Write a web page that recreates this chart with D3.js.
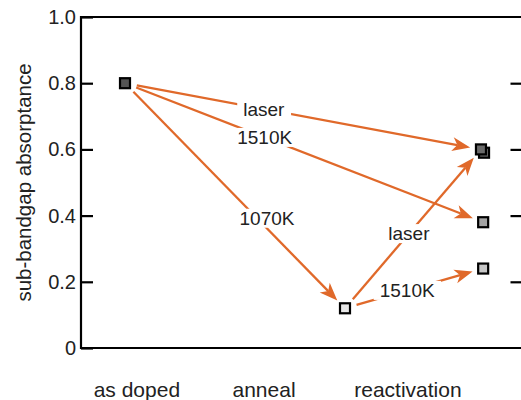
<!DOCTYPE html>
<html><head><meta charset="utf-8">
<script src="https://cdn.jsdelivr.net/npm/d3@7"></script>
<style>body{margin:0;background:#fff}svg{display:block}text{font-family:"Liberation Sans",Arial,sans-serif}</style>
</head><body>
<script>
const categories = ["as doped", "anneal", "reactivation"];
const categoryX = [1.27, 4.16, 7.43];
const yTicks = [0, 0.2, 0.4, 0.6, 0.8, 1.0];
const yTickLabels = ["0", "0.2", "0.4", "0.6", "0.8", "1.0"];
// points (drawing order)
const pointX = [1.0, 6.0, 9.16, 9.09, 9.14, 9.14];
const pointY = [0.80, 0.12, 0.59, 0.60, 0.38, 0.24];
const pointFill = ["#545454", "#e8e8e8", "#6a6a6a", "#6a6a6a", "#a4a4a4", "#c6c6c6"];
// arrows between points
const arrowFrom = [0, 0, 0, 1, 1];
const arrowTo = [3, 4, 1, 3, 5];
const arrowLabel = ["laser", "1510K", "1070K", "laser", "1510K"];
const labelT = [0.39, 0.39, 0.60, 0.47, 0.45];
const labelDx = [0, 0, 10, 0, 0];

const W = 521, H = 400;
const svg = d3.select("body").append("svg").attr("width", W).attr("height", H);
const x = d3.scaleLinear().domain([0, 10]).range([81, 521]);
const y = d3.scaleLinear().domain([0, 1]).range([348, 17]);
const orange = "#e0692a";

// frame
const frame = svg.append("g").attr("stroke", "#000").attr("stroke-width", 2.2).attr("fill", "none");
frame.append("path").attr("d", `M${x(10)+30},${y(1)}H${x(0)}V${y(0)}H${x(10)+30}`);

// left axis ticks & labels
const left = svg.append("g").attr("transform", `translate(${x(0)},0)`)
  .call(d3.axisLeft(y).tickValues(yTicks).tickFormat((d, i) => yTickLabels[i]).tickSize(-12).tickPadding(5));
left.select(".domain").remove();
left.selectAll(".tick line").attr("stroke-width", 2.2).attr("stroke", "#000");
left.selectAll(".tick text").attr("font-size", 20).attr("fill", "#222").attr("font-family", "Liberation Sans, Arial, sans-serif");
// right axis ticks
const right = svg.append("g").attr("transform", `translate(${522.5},0)`)
  .call(d3.axisRight(y).tickValues(yTicks.slice(1, 5)).tickFormat("").tickSize(-12));
right.select(".domain").remove();
right.selectAll(".tick line").attr("stroke-width", 2.2).attr("stroke", "#000");

// y label
svg.append("text").attr("transform", `translate(31,${(y(0)+y(1))/2}) rotate(-90)`)
  .attr("text-anchor", "middle").attr("font-size", 20.5).attr("fill", "#222").text("sub-bandgap absorptance");

// category labels
svg.append("g").selectAll("text").data(categories).join("text")
  .attr("x", (d, i) => x(categoryX[i])).attr("y", 397)
  .attr("text-anchor", "middle").attr("font-size", 21).attr("fill", "#222").text(d => d);

// arrows
const L = 18, Wd = 14, notch = 13, startOff = 12, endOff = 11;
const ag = svg.append("g");
arrowFrom.forEach((f, i) => {
  const t = arrowTo[i];
  const x0 = x(pointX[f]), y0 = y(pointY[f]), x1 = x(pointX[t]), y1 = y(pointY[t]);
  const dx = x1 - x0, dy = y1 - y0, len = Math.hypot(dx, dy);
  const ux = dx / len, uy = dy / len;
  const sx = x0 + ux * startOff, sy = y0 + uy * startOff;
  const tx = x1 - ux * endOff, ty = y1 - uy * endOff;
  const nx = tx - ux * notch, ny = ty - uy * notch;
  ag.append("line").attr("x1", sx).attr("y1", sy).attr("x2", nx).attr("y2", ny)
    .attr("stroke", orange).attr("stroke-width", 2.3);
  const ang = Math.atan2(dy, dx) * 180 / Math.PI;
  ag.append("path").attr("d", `M0,0L${-L},${-Wd/2}L${-notch},0L${-L},${Wd/2}Z`)
    .attr("transform", `translate(${tx},${ty}) rotate(${ang})`).attr("fill", orange);
});
// labels with white background
const lg = svg.append("g");
arrowFrom.forEach((f, i) => {
  const t = arrowTo[i];
  const x0 = x(pointX[f]), y0 = y(pointY[f]), x1 = x(pointX[t]), y1 = y(pointY[t]);
  const cx = x0 + (x1 - x0) * labelT[i] + labelDx[i], cy = y0 + (y1 - y0) * labelT[i];
  const txt = lg.append("text").attr("x", cx).attr("y", cy + 6.5).attr("text-anchor", "middle")
    .attr("font-size", 19).attr("fill", "#222").text(arrowLabel[i]);
  const bb = txt.node().getBBox();
  lg.insert("rect", () => txt.node()).attr("x", bb.x - 6).attr("y", bb.y + 1).attr("width", bb.width + 12).attr("height", bb.height - 2).attr("fill", "#fff");
});

// points
svg.append("g").selectAll("rect").data(pointX).join("rect")
  .attr("x", (d, i) => x(d) - 5).attr("y", (d, i) => y(pointY[i]) - 5)
  .attr("width", 10).attr("height", 10)
  .attr("fill", (d, i) => pointFill[i]).attr("stroke", "#000").attr("stroke-width", 2.2);
</script>
</body></html>
